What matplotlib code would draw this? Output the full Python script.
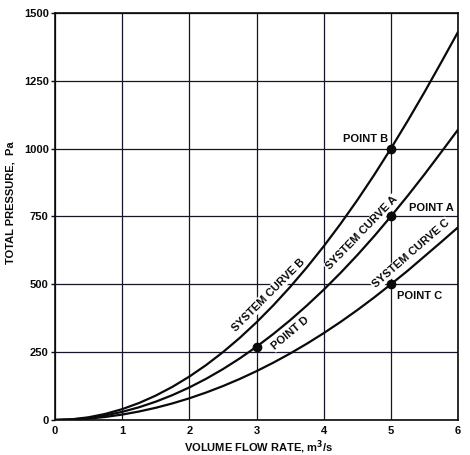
import matplotlib
matplotlib.use("Agg")
import matplotlib.pyplot as plt
import numpy as np

plt.rcParams['font.family'] = ['Liberation Sans', 'DejaVu Sans']
plt.rcParams['font.weight'] = 'bold'

# Data (volume flow rate m3/s, total pressure Pa)
flow = [0, 0.25, 0.5, 0.75, 1, 1.25, 1.5, 1.75, 2, 2.25, 2.5, 2.75, 3,
        3.25, 3.5, 3.75, 4, 4.25, 4.5, 4.75, 5, 5.25, 5.5, 5.75, 6]
curve_b = [0, 2.5, 10, 22.5, 40, 62.5, 90, 122.5, 160, 202.5, 250, 302.5, 360,
           422.5, 490, 562.5, 640, 722.5, 810, 902.5, 1000, 1102, 1208, 1318, 1430]
curve_a = [0, 1.9, 7.5, 16.9, 30, 46.9, 67.5, 91.9, 120, 151.9, 187.5, 226.9, 270,
           316.9, 367.5, 421.9, 480, 541.9, 607.5, 676.9, 750, 826, 905, 987, 1070]
curve_c = [0, 1.25, 5, 11.25, 20, 31.25, 45, 61.25, 80, 101.25, 125, 151.25, 180,
           211.25, 245, 281.25, 320, 361.25, 405, 451.25, 500, 550, 603, 656, 710]

point_names = ["POINT B", "POINT A", "POINT C", "POINT D"]
point_x = [5, 5, 5, 3]
point_y = [1000, 750, 500, 270]

x_ticks = [0, 1, 2, 3, 4, 5, 6]
y_ticks = [0, 250, 500, 750, 1000, 1250, 1500]

W, H = 470, 455
fig = plt.figure(figsize=(W / 100, H / 100), dpi=100)
ax = fig.add_axes([55 / W, (H - 420) / H, 403 / W, 407 / H])

ink = '#0a0a0a'
grid_c = '#15152a'

ax.set_xlim(0, 6)
ax.set_ylim(0, 1500)
ax.set_xticks(x_ticks)
ax.set_yticks(y_ticks)
ax.grid(True, color=grid_c, linewidth=0.9, zorder=1)
ax.set_axisbelow(True)
for s in ax.spines.values():
    s.set_linewidth(1.2)
    s.set_color(ink)
ax.tick_params(axis='x', length=0, pad=4, labelsize=8, colors=ink)
ax.tick_params(axis='y', length=3, width=1, pad=1.5, labelsize=8, colors=ink)

for ys in (curve_b, curve_a, curve_c):
    ax.plot(flow, ys, color=ink, linewidth=1.6, zorder=4, solid_capstyle='round')

ax.plot(point_x, point_y, 'o', color=ink, markersize=6, zorder=6)

bbox = dict(facecolor='white', edgecolor='none', pad=0.8)
txt = dict(fontsize=8, fontweight='bold', color=ink, zorder=3, bbox=bbox,
           ha='center', va='center', rotation_mode='anchor')

# curve labels (centre positions in data units, rotation in degrees)
ax.text(3.18, 461, "SYSTEM CURVE B", rotation=45, **txt)
ax.text(4.57, 689, "SYSTEM CURVE A", rotation=46, **txt)
ax.text(5.30, 612, "SYSTEM CURVE C", rotation=41, **txt)
ax.text(3.50, 321, point_names[3], rotation=40, **txt)

ax.text(4.63, 1036, point_names[0], **txt)
ax.text(5.60, 781, point_names[1], **txt)
ax.text(5.43, 457, point_names[2], **txt)

fig.text(259 / W, 1 - 447 / H, "VOLUME FLOW RATE, m$^{\\mathbf{3}}$/s", ha='center', va='center',
         fontsize=8, fontweight='bold', color=ink)
fig.text(11 / W, 1 - 203 / H, "TOTAL PRESSURE,  Pa", ha='center', va='center', rotation=90,
         fontsize=8, fontweight='bold', color=ink)

fig.savefig("out.png", dpi=100, facecolor='white')
